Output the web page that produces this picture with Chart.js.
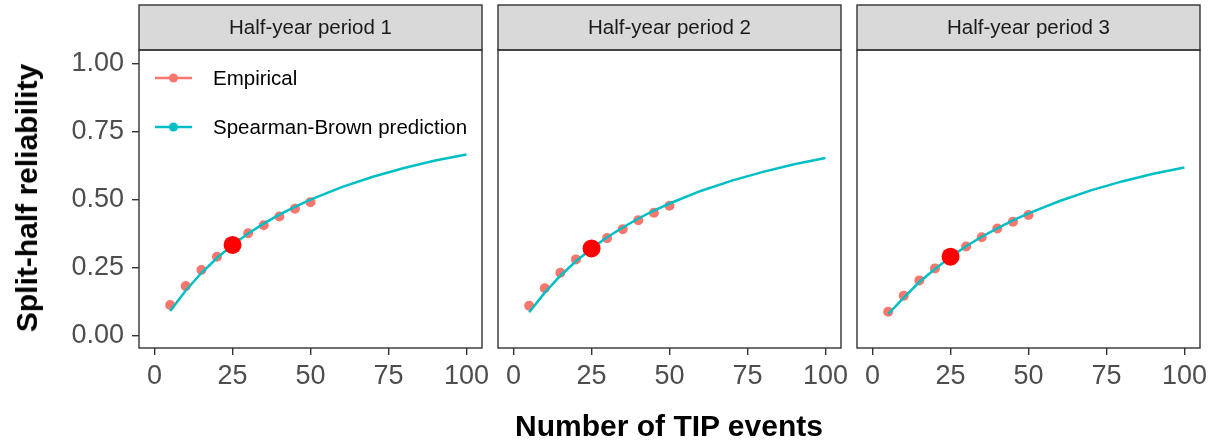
<!DOCTYPE html>
<html>
<head>
<meta charset="utf-8">
<title>Split-half reliability</title>
<script src="https://cdn.jsdelivr.net/npm/chart.js@4.4.1/dist/chart.umd.min.js"></script>
<style>
  body { margin: 0; background: #fff; }
  #wrap { position: relative; width: 1217px; height: 448px; overflow: hidden; font-family: "Liberation Sans", Arial, sans-serif; }
  #wrap canvas { position: absolute; top: 0; }
  .axis-title { position: absolute; font-weight: bold; font-size: 30px; color: #000; white-space: nowrap; }
  #xTitle { left: 669px; top: 409px; transform: translateX(-50%); }
  #yTitle { left: 27px; top: 198px; transform: translate(-50%, -50%) rotate(-90deg); }
</style>
</head>
<body>
<div id="wrap">
  <canvas id="p1" width="500" height="448" style="left:0px"></canvas>
  <canvas id="p2" width="376" height="448" style="left:482px"></canvas>
  <canvas id="p3" width="376" height="448" style="left:841px"></canvas>
  <div class="axis-title" id="xTitle">Number of TIP events</div>
  <div class="axis-title" id="yTitle">Split-half reliability</div>
</div>

<script>
// datos: número de eventos y fiabilidad por periodo
const periods = ['Half-year period 1', 'Half-year period 2', 'Half-year period 3'];
const empiricalX = [5, 10, 15, 20, 25, 30, 35, 40, 45, 50];
const empiricalP1 = [0.114, 0.183, 0.242, 0.291, 0.334, 0.377, 0.406, 0.438, 0.467, 0.491];
const empiricalP2 = [0.111, 0.175, 0.232, 0.281, 0.321, 0.359, 0.392, 0.425, 0.452, 0.478];
const empiricalP3 = [0.089, 0.148, 0.204, 0.248, 0.291, 0.328, 0.362, 0.394, 0.419, 0.444];
const predictionX = [5, 10, 15, 20, 25, 30, 35, 40, 45, 50, 60, 70, 80, 90, 100];
const predictionP1 = [0.092, 0.167, 0.231, 0.286, 0.334, 0.376, 0.412, 0.445, 0.474, 0.500, 0.546, 0.584, 0.616, 0.644, 0.666];
const predictionP2 = [0.087, 0.159, 0.221, 0.274, 0.321, 0.362, 0.398, 0.431, 0.460, 0.486, 0.532, 0.570, 0.602, 0.630, 0.653];
const predictionP3 = [0.080, 0.141, 0.198, 0.246, 0.290, 0.329, 0.364, 0.395, 0.424, 0.450, 0.495, 0.534, 0.567, 0.595, 0.618];
// punto destacado (25 eventos)
const baseEvents = 25;
const baseReliability = [0.334, 0.321, 0.291];
const xTicks = [0, 25, 50, 75, 100];
const yTicks = [0, 0.25, 0.5, 0.75, 1];

const empirical = [empiricalP1, empiricalP2, empiricalP3];
const prediction = [predictionP1, predictionP2, predictionP3];

const PINK = '#F8766D';
const TEAL = '#00BFC4';
const FONT = '"Liberation Sans", Arial, sans-serif';

const toXY = (xs, ys) => xs.map((x, i) => ({ x: x, y: ys[i] }));

// tira gris con el título y borde del panel
const panelFrame = {
    id: 'panelFrame',
    afterDraw(chart, args, opts) {
        const { ctx, chartArea: a } = chart;
        ctx.save();
        ctx.fillStyle = '#D9D9D9';
        ctx.fillRect(a.left, 5, a.right - a.left, a.top - 5);
        ctx.strokeStyle = '#333333';
        ctx.lineWidth = 1.4;
        ctx.strokeRect(a.left, 5, a.right - a.left, a.top - 5);
        ctx.strokeRect(a.left, a.top, a.right - a.left, a.bottom - a.top);
        ctx.fillStyle = '#1A1A1A';
        ctx.font = '20.5px ' + FONT;
        ctx.textAlign = 'center';
        ctx.textBaseline = 'middle';
        ctx.fillText(opts.title, (a.left + a.right) / 2, (5 + a.top) / 2 + 1);

        // leyenda dentro del primer panel
        if (opts.legend) {
            const items = [['Empirical', PINK], ['Spearman-Brown prediction', TEAL]];
            items.forEach((it, i) => {
                const y = a.top + 28 + i * 49;
                const x0 = a.left + 16;
                ctx.strokeStyle = it[1];
                ctx.lineWidth = 2.5;
                ctx.beginPath();
                ctx.moveTo(x0, y);
                ctx.lineTo(x0 + 37, y);
                ctx.stroke();
                ctx.fillStyle = it[1];
                ctx.beginPath();
                ctx.arc(x0 + 18.5, y, 4.5, 0, Math.PI * 2);
                ctx.fill();
                ctx.fillStyle = '#000';
                ctx.textAlign = 'left';
                ctx.font = '20.5px ' + FONT;
                ctx.fillText(it[0], a.left + 74, y + 1);
            });
        }
        ctx.restore();
    }
};

function makePanel(id, idx, pad, showY) {
    return new Chart(document.getElementById(id), {
        type: 'scatter',
        data: {
            datasets: [
                {
                    // punto grande en 25 eventos
                    data: [{ x: baseEvents, y: baseReliability[idx] }],
                    backgroundColor: '#FF0000',
                    pointRadius: 9,
                    pointBorderWidth: 0,
                    order: 0
                },
                {
                    data: toXY(predictionX, prediction[idx]),
                    showLine: true,
                    borderColor: TEAL,
                    borderWidth: 2.5,
                    pointRadius: 0,
                    tension: 0,
                    order: 1
                },
                {
                    data: toXY(empiricalX, empirical[idx]),
                    backgroundColor: PINK,
                    pointRadius: 5,
                    pointBorderWidth: 0,
                    order: 2
                }
            ]
        },
        options: {
            responsive: false,
            animation: false,
            layout: { padding: { top: 50, left: pad[0], right: pad[1], bottom: 0 } },
            plugins: {
                legend: { display: false },
                tooltip: { enabled: false },
                panelFrame: { title: periods[idx], legend: idx === 0 }
            },
            scales: {
                x: {
                    type: 'linear',
                    min: -5,
                    max: 105,
                    afterBuildTicks: s => { s.ticks = xTicks.map(v => ({ value: v })); },
                    afterFit: s => { s.height = 100; },
                    border: { display: false },
                    grid: { drawOnChartArea: false, drawTicks: true, tickLength: 7, color: '#333333', lineWidth: 1.4 },
                    ticks: { color: '#4D4D4D', padding: 5, maxRotation: 0, font: { family: FONT, size: 27 } }
                },
                y: {
                    type: 'linear',
                    display: showY,
                    min: -0.044,
                    max: 1.049,
                    afterBuildTicks: s => { s.ticks = yTicks.map(v => ({ value: v })); },
                    afterFit: s => { s.width = showY ? 139 : 0; },
                    border: { display: false },
                    grid: { drawOnChartArea: false, drawTicks: true, tickLength: 7, color: '#333333', lineWidth: 1.4 },
                    ticks: {
                        color: '#4D4D4D',
                        padding: 8,
                        font: { family: FONT, size: 27 },
                        callback: v => v.toFixed(2)
                    }
                }
            }
        },
        plugins: [panelFrame]
    });
}

makePanel('p1', 0, [0, 18], true);
makePanel('p2', 1, [16, 17], false);
makePanel('p3', 2, [16, 17], false);
</script>
</body>
</html>
